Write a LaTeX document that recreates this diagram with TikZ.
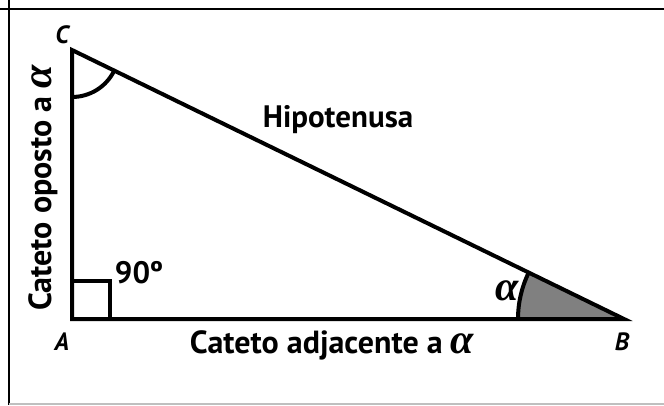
\documentclass[tikz,border=0pt]{standalone}
\usepackage{fontspec}
\setmainfont{PT Sans}
\newfontfamily\greekfont{Liberation Serif}
\usepackage{tikz}
\usetikzlibrary{positioning}

\newcommand{\alf}[1]{{\greekfont\itshape\fontsize{#1}{#1}\selectfont α}}

\begin{document}
\begin{tikzpicture}[x=1pt, y=1pt, line width=4pt,
  every node/.style={font=\bfseries\fontsize{31}{34}\selectfont, inner sep=0pt},
  vertex/.style={font=\bfseries\itshape\fontsize{25}{28}\selectfont},
  legname/.style={font=\bfseries\fontsize{32}{36}\selectfont}]
\useasboundingbox (0,0) rectangle (664,405);
% frame
\draw[line width=2.5pt] (9,405) -- (9,0);
\draw[line width=2.5pt] (0,396) -- (664,396);
\draw[line width=1.5pt, black!25] (9,1) -- (664,1);
% triangle
\coordinate (A) at (72,86);
\coordinate (B) at (624,86);
\coordinate (C) at (72,355);
\fill[black!50] (B) -- ++(180:106) arc[start angle=180, end angle=154.02, radius=106] -- cycle;
\draw (B) ++(180:106) arc[start angle=180, end angle=154.02, radius=106];
\draw (C) ++(270:47) arc[start angle=270, end angle=334.02, radius=47];
\draw (A) rectangle ++(38,38);
\draw[line join=miter] (A) -- (B) -- (C) -- cycle;
% labels
\node[vertex] (lC) at (62,370) {C};
\node[vertex] (lA) at (62,63) {A};
\node[vertex] (lB) at (622,63) {B};
\node (hip) at (338,285) {Hipotenusa};
\node (ang) at (139,132) {90º};
\node (alp) at (507,114) {\alf{42}};
\node[legname] (adj) at (332,60) {Cateto adjacente a \alf{42}};
\node[legname, rotate=90] (opo) at (43,217) {Cateto oposto a \alf{42}};
\end{tikzpicture}
\end{document}
